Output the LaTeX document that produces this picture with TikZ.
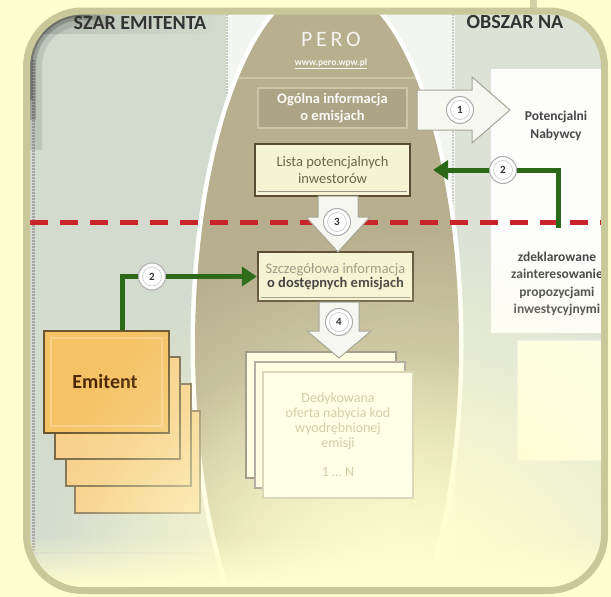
\documentclass[tikz,border=0pt]{standalone}
\usepackage{fontspec}
\setmainfont{Carlito}
\usetikzlibrary{fadings,arrows.meta,calc}
\definecolor{cream}{HTML}{FEFECF}
\definecolor{khaki}{HTML}{C9C89B}
\definecolor{pageedge}{HTML}{D3D1A7}
\definecolor{leftgr}{HTML}{D3DBCE}
\definecolor{rightgr}{HTML}{DCE3D6}
\definecolor{colwhite}{HTML}{F3F5F0}
\definecolor{tanfill}{HTML}{B8AF8E}
\definecolor{tandark}{HTML}{ADA485}
\definecolor{tanline}{HTML}{CCC5A7}
\definecolor{boxfill}{HTML}{F5F3D3}
\definecolor{boxline}{HTML}{5A4C32}
\definecolor{boxtext}{HTML}{6E6650}
\definecolor{dgreen}{HTML}{2B6818}
\definecolor{dred}{HTML}{C9232B}
\definecolor{orangeA}{HTML}{F5C266}
\definecolor{orangeB}{HTML}{F8D08A}
\definecolor{emline}{HTML}{6A5832}
\definecolor{arrfill}{HTML}{F7F7F2}
\definecolor{arrline}{HTML}{A6A696}
\definecolor{pale}{HTML}{D2CEA8}
\tikzfading[name=radfade, inner color=transparent!0, outer color=transparent!100]
\tikzfading[name=fadeup, top color=transparent!100, bottom color=transparent!0]
\tikzfading[name=fadeleft, left color=transparent!0, right color=transparent!100]
\begin{document}
\begin{tikzpicture}[x=1pt,y=-1pt,
  numcirc/.style={circle, draw=gray!65, fill=white, line width=1pt, minimum size=27pt, inner sep=0pt,
    font=\bfseries\fontsize{11}{11}\selectfont, text=black!80,
    path picture={\draw[gray!45, line width=.6pt] (path picture bounding box.center) circle (9.5pt);}},
  infobox/.style={draw=boxline, line width=2.2pt, fill=boxfill, inner sep=0pt, align=center,
    font=\fontsize{14.5}{17}\selectfont, text=boxtext},
  emitbox/.style={draw=emline, line width=2pt, fill=orangeB, minimum width=125pt, minimum height=102pt, anchor=north west, inner sep=0pt},
  dedbox/.style={line width=1.2pt, fill=cream!60!white, minimum width=150pt, minimum height=126pt, inner sep=0pt},
  garrow/.style={draw=dgreen, line width=5pt, -{Triangle[length=15pt,width=19pt]}},
  blockarrow/.style={fill=arrfill, draw=arrline, line width=1pt, line join=miter},
  titletext/.style={font=\bfseries\fontsize{20}{20}\selectfont, text=black!80},
  sidetext/.style={font=\bfseries\fontsize{13.5}{18}\selectfont, text=black!72, align=center}]
\useasboundingbox (0,0) rectangle (611,597);
\fill[cream] (0,0) rectangle (611,597);
\fill[pageedge] (530,0) rectangle (537,12);

\begin{scope}
\clip[rounded corners=52pt] (30,14) rectangle (601,587);
% background areas
\fill[leftgr] (30,14) rectangle (601,587);
\fill[colwhite] (226,14) rectangle (455,587);
\fill[rightgr] (455,14) rectangle (601,587);
\draw[gray!45, line width=1.2pt, dash pattern=on 1.5pt off 1.5pt] (227,14) -- (227,240);
\draw[gray!40, line width=1.2pt, dash pattern=on 1.5pt off 1.5pt] (453,14) -- (453,240);
\draw[gray!70, line width=3pt, dash pattern=on 1.5pt off 1.5pt] (33,60) -- (33,555);
\draw[gray!40, line width=1.5pt] (30,553) -- (210,553);
% top-left vignette
\fill[black, opacity=.12, path fading=fadeleft] (30,14) rectangle (220,34);
\draw[black, opacity=.10, line width=24pt] (30,150) -- (30,66) arc[start angle=180, end angle=90, radius=52pt] -- (110,14);
\draw[black, opacity=.18, line width=12pt] (30,120) -- (30,66) arc[start angle=180, end angle=90, radius=52pt] -- (100,14);
\draw[black, opacity=.25, line width=5pt] (30,100) -- (30,66) arc[start angle=180, end angle=90, radius=52pt] -- (90,14);
% titles
\node[titletext, anchor=center] (tl) at (140,23) {SZAR EMITENTA};
\node[titletext, anchor=west] (tr) at (463,22) {OBSZAR NA};
% right white box
\fill[white!94!rightgr, draw=gray!25] (490,68) rectangle (610,333);
\draw[gray!15, line width=1pt, fill=cream!50!white] (517,340) rectangle (610,460);
\node[sidetext] (pn) at (556,126) {Potencjalni\\Nabywcy};
\node[sidetext, font=\bfseries\fontsize{13.5}{17.5}\selectfont] (zd) at (557,284) {zdeklarowane\\zainteresowanie\\propozycjami\\inwestycyjnymi};
% ellipse
\draw[white, line width=9pt] (327,345) ellipse [x radius=132pt, y radius=360pt];
\fill[tanfill] (327,345) ellipse [x radius=132pt, y radius=360pt];
\draw[tanline, line width=1.2pt] (239,78) -- (415,78);
\node[font=\fontsize{22}{22}\selectfont, text=white!85!tanfill] (pero) at (331,39) {P\,E\,R\,O};
\node[font=\bfseries\fontsize{9.5}{9.5}\selectfont, text=white!90!tanfill] (www) at (331,64) {\underline{www.pero.wpw.pl}};
% boxes in ellipse
\node[draw=tanline, line width=1.6pt, fill=tandark, minimum width=149pt, minimum height=40pt, inner sep=0pt,
  align=center, font=\bfseries\fontsize{14.5}{17}\selectfont, text=white!92!tanfill] (ogolna) at (332.5,108) {Ogólna informacja\\o emisjach};
\node[infobox, minimum width=155pt, minimum height=52pt] (lista) at (332.5,170) {Lista potencjalnych\\inwestorów};
\draw[boxline!60, line width=.7pt] ($(lista.south west)+(4,-6)$) -- ($(lista.south east)+(-4,-6)$);
\node[infobox, minimum width=155pt, minimum height=49pt, font=\fontsize{14.5}{14.5}\selectfont] (szcz) at (335.5,276.5)
  {{\color{boxtext!70}Szczegółowa informacja}\\{\bfseries\color{black!80}o dostępnych emisjach}};
\draw[boxline!60, line width=.7pt] ($(szcz.south west)+(4,-5)$) -- ($(szcz.south east)+(-4,-5)$);
% dashed boundary
\draw[dred, line width=5pt, dash pattern=on 18pt off 12pt] (30,222) -- (601,222);
% block arrow 1
\draw[blockarrow] (417,90) -- (472,90) -- (472,77) -- (510,110) -- (472,143) -- (472,130) -- (417,130) -- cycle;
\node[numcirc] (c1) at (460,110) {1};
% green arrow right
\coordinate (g0) at (558,228);
\draw[garrow, shorten >=22pt] (g0) |- (lista.east);
\node[numcirc] (c2b) at (503,170) {2};
% block arrow 3
\draw[blockarrow] (318,196) -- (358,196) -- (358,217) -- (370,217) -- (338,252) -- (306,217) -- (318,217) -- cycle;
\node[numcirc] (c3) at (337,222) {3};
% Emitent stack
\node[emitbox, draw=emline!80] (e4) at (74,410) {};
\node[emitbox, draw=emline!85] (e3) at (65,383) {};
\node[emitbox, draw=emline!90] (e2) at (54,356) {};
\node[emitbox, fill=orangeA] (emitent) at (43,330) {};
\draw[orangeB, line width=1.5pt] ($(emitent.north west)+(8,8)$) rectangle ($(emitent.south east)+(-8,-8)$);
\node[font=\bfseries\fontsize{20}{20}\selectfont, text=black!70!orange] (emtxt) at (105,382) {Emitent};
% green arrow left
\draw[garrow] ($(emitent.north west)+(79,0)$) |- (szcz.west);
\node[numcirc] (c2a) at (152,276.5) {2};
% fade of lower part
\fill[cream, path fading=radfade] (410,600) ellipse [x radius=390pt, y radius=370pt];
\fill[cream, path fading=radfade] (390,600) ellipse [x radius=330pt, y radius=250pt];
\fill[cream, path fading=fadeup] (30,535) rectangle (601,587);
% dedicated offers stack
\node[dedbox, draw=boxline!55] (dA) at (321,415) {};
\node[dedbox, draw=boxline!45] (dB) at (330,425) {};
\node[dedbox, draw=pale!80, fill=cream!50!white, align=center, font=\fontsize{14}{15}\selectfont, text=pale] (dC) at (338,435)
  {Dedykowana\\oferta nabycia kod\\wyodrębnionej\\emisji\\[14pt]1 … N};
% block arrow 4
\draw[blockarrow] (319,302) -- (359,302) -- (359,331) -- (371,331) -- (339,358) -- (307,331) -- (319,331) -- cycle;
\node[numcirc] (c4) at (339,322) {4};
\end{scope}
% frame
\draw[khaki, line width=7pt, rounded corners=56pt] (26.5,11) rectangle (604.5,590.5);
\end{tikzpicture}
\end{document}
